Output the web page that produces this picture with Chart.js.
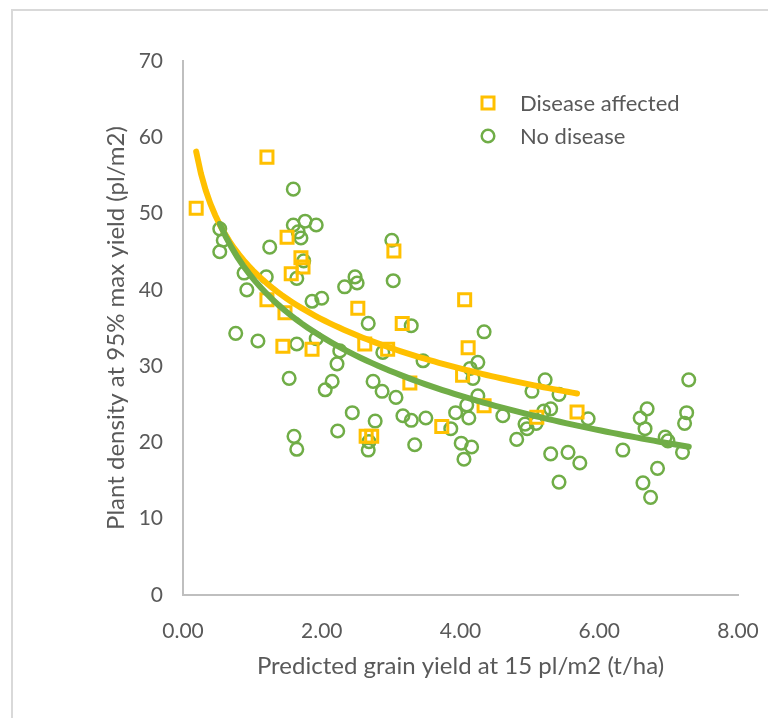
<!DOCTYPE html>
<html>
<head>
<meta charset="utf-8">
<script src="https://cdn.jsdelivr.net/npm/chart.js@4.4.1/dist/chart.umd.min.js"></script>
<style>
  html, body { margin: 0; padding: 0; background: #ffffff; }
  #wrap { width: 768px; height: 718px; }
</style>
</head>
<body>
<div id="wrap"><canvas id="canvas-yield" width="768" height="718"></canvas></div>
<script>
// values
var diseaseX = [0.19, 1.21, 1.50, 1.56, 1.70, 1.73, 1.21, 1.47, 1.44, 1.86, 2.52, 2.62, 2.95, 3.04, 3.16,
                2.64, 2.72, 3.27, 4.06, 4.11, 4.03, 4.34, 3.73, 5.10, 5.68];
var diseaseY = [50.7, 57.4, 46.9, 42.1, 44.2, 43.0, 38.7, 37.0, 32.6, 32.2, 37.6, 32.9, 32.2, 45.1, 35.6,
                20.8, 20.8, 27.8, 38.7, 32.4, 28.8, 24.8, 22.1, 23.3, 24.0];

var healthyX = [0.53, 0.58, 0.53, 0.88, 0.92, 0.76, 1.08, 1.20, 1.25, 1.59, 1.59, 1.76, 1.92, 1.66, 1.70,
                1.74, 1.64, 1.86, 2.00, 2.33, 2.48, 2.51, 1.64, 1.92, 2.26, 2.22, 2.67, 1.53, 2.15, 2.05,
                2.44, 2.23, 1.60, 1.64, 3.01, 3.03, 3.29, 4.34, 2.88, 3.46, 4.25, 4.14, 2.74, 4.18, 5.22,
                2.87, 3.07, 2.77, 3.17, 3.29, 3.50, 4.25, 4.09, 3.93, 4.12, 4.61, 5.03, 5.20, 5.30, 4.93,
                4.96, 5.09, 3.86, 3.34, 4.01, 4.16, 4.05, 4.81, 2.68, 2.67, 5.42, 5.84, 5.30, 5.55, 5.72,
                5.42, 6.34, 6.59, 6.69, 6.66, 6.95, 6.99, 6.84, 6.63, 6.74, 7.29, 7.26, 7.23, 7.20];
var healthyY = [48.0, 46.5, 45.0, 42.2, 40.0, 34.3, 33.3, 41.7, 45.6, 53.2, 48.5, 49.0, 48.5, 47.6, 46.8,
                43.8, 41.5, 38.5, 38.9, 40.4, 41.7, 40.9, 32.9, 33.6, 32.0, 30.3, 35.6, 28.4, 28.0, 26.9,
                23.9, 21.5, 20.8, 19.1, 46.5, 41.2, 35.3, 34.5, 31.8, 30.7, 30.5, 29.7, 28.0, 28.4, 28.2,
                26.7, 25.9, 22.8, 23.5, 22.9, 23.2, 26.1, 24.9, 23.9, 23.2, 23.5, 26.7, 24.1, 24.4, 22.4,
                21.8, 22.5, 21.8, 19.7, 19.9, 19.4, 17.8, 20.4, 20.1, 19.0, 26.3, 23.1, 18.5, 18.7, 17.3,
                14.8, 19.0, 23.2, 24.4, 21.8, 20.7, 20.2, 16.6, 14.7, 12.8, 28.2, 23.9, 22.5, 18.7];

var xTicks = [0, 2, 4, 6, 8];
var yTicks = [0, 10, 20, 30, 40, 50, 60, 70];

var ORANGE = '#ffc000';
var GREEN = '#70ad47';
var TEXT = '#595959';
var FONT = 'Lato';

function toPoints(xs, ys) {
    var pts = [];
    for (var i = 0; i < xs.length; i++) {
        pts.push({x: xs[i], y: ys[i]});
    }
    return pts;
}

// logarithmic trendline, least squares on ln(x), like the spreadsheet one
function logTrend(xs, ys) {
    var n = xs.length, sl = 0, sy = 0, sll = 0, sly = 0;
    for (var i = 0; i < n; i++) {
        var l = Math.log(xs[i]);
        sl += l; sy += ys[i]; sll += l * l; sly += l * ys[i];
    }
    var a = (n * sly - sl * sy) / (n * sll - sl * sl);
    var b = (sy - a * sl) / n;
    var lo = Math.min.apply(null, xs), hi = Math.max.apply(null, xs);
    var pts = [];
    for (var k = 0; k <= 80; k++) {
        var x = lo + (hi - lo) * k / 80;
        pts.push({x: x, y: a * Math.log(x) + b});
    }
    return pts;
}

var frame = {
    id: 'frame',
    beforeDraw: function(chart) {
        var ctx = chart.ctx;
        ctx.save();
        ctx.strokeStyle = '#d9d9d9';
        ctx.lineWidth = 2;
        ctx.beginPath();
        ctx.moveTo(12, 718);
        ctx.lineTo(12, 10);
        ctx.lineTo(768, 10);
        ctx.stroke();
        ctx.restore();
    }
};

var insideLegend = {
    id: 'insideLegend',
    afterDraw: function(chart) {
        var ctx = chart.ctx, area = chart.chartArea;
        ctx.save();
        ctx.font = '22px ' + FONT;
        ctx.textBaseline = 'middle';
        [0, 1].forEach(function(idx, row) {
            var ds = chart.data.datasets[idx];
            var y = area.top + 42 + row * 33;
            var x = area.left + 305;
            ctx.strokeStyle = ds.borderColor;
            ctx.fillStyle = 'rgba(0,0,0,0)';
            ctx.lineWidth = ds.pointBorderWidth;
            Chart.helpers.drawPoint(ctx, {
                pointStyle: ds.pointStyle,
                radius: ds.pointRadius,
                borderWidth: ds.pointBorderWidth
            }, x, y);
            ctx.fillStyle = TEXT;
            ctx.fillText(ds.label, x + 32, y + 1);
        });
        ctx.restore();
    }
};

var config = {
    type: 'scatter',
    data: {
        datasets: [{
            label: 'Disease affected',
            data: toPoints(diseaseX, diseaseY),
            pointStyle: 'rect',
            pointRadius: 8.5,
            pointHoverRadius: 8.5,
            pointBorderWidth: 3,
            borderColor: ORANGE,
            backgroundColor: 'rgba(0,0,0,0)',
            order: 2
        }, {
            label: 'No disease',
            data: toPoints(healthyX, healthyY),
            pointStyle: 'circle',
            pointRadius: 6.3,
            pointHoverRadius: 6.3,
            pointBorderWidth: 2.5,
            borderColor: GREEN,
            backgroundColor: 'rgba(0,0,0,0)',
            order: 3
        }, {
            label: 'trend disease',
            data: logTrend(diseaseX, diseaseY),
            showLine: true,
            pointRadius: 0,
            borderColor: ORANGE,
            borderWidth: 6,
            borderCapStyle: 'round',
            fill: false,
            order: 1
        }, {
            label: 'trend healthy',
            data: logTrend(healthyX, healthyY),
            showLine: true,
            pointRadius: 0,
            borderColor: GREEN,
            borderWidth: 6,
            borderCapStyle: 'round',
            fill: false,
            order: 0
        }]
    },
    options: {
        responsive: false,
        animation: false,
        events: [],
        layout: {padding: {left: 0, top: 61, right: 30, bottom: 0}},
        plugins: {
            legend: {display: false},
            tooltip: {enabled: false}
        },
        scales: {
            x: {
                type: 'linear',
                min: 0, max: 8,
                afterFit: function(scale) {
                    scale.height = 123;
                    scale.paddingLeft = 0;
                    scale.paddingRight = 0;
                },
                afterBuildTicks: function(scale) {
                    scale.ticks = xTicks.map(function(v) { return {value: v}; });
                },
                grid: {display: false, drawTicks: false},
                border: {display: true, color: '#bfbfbf', width: 2},
                ticks: {
                    color: TEXT,
                    font: {family: FONT, size: 21},
                    padding: 24,
                    callback: function(v) { return v.toFixed(2); }
                },
                title: {
                    display: true,
                    text: 'Predicted grain yield at 15 pl/m2 (t/ha)',
                    color: TEXT,
                    font: {family: FONT, size: 24},
                    padding: {top: 0, bottom: 37}
                }
            },
            y: {
                type: 'linear',
                min: 0, max: 70,
                afterFit: function(scale) { scale.width = 183; },
                afterBuildTicks: function(scale) {
                    scale.ticks = yTicks.map(function(v) { return {value: v}; });
                },
                grid: {display: false, drawTicks: false},
                border: {display: true, color: '#bfbfbf', width: 2},
                ticks: {
                    color: TEXT,
                    font: {family: FONT, size: 21},
                    padding: 20
                },
                title: {
                    display: true,
                    text: 'Plant density at 95% max yield (pl/m2)',
                    color: TEXT,
                    font: {family: FONT, size: 24},
                    padding: {top: 102, bottom: 0}
                }
            }
        }
    },
    plugins: [frame, insideLegend]
};

var yieldChart = new Chart(document.getElementById('canvas-yield'), config);
</script>
</body>
</html>
